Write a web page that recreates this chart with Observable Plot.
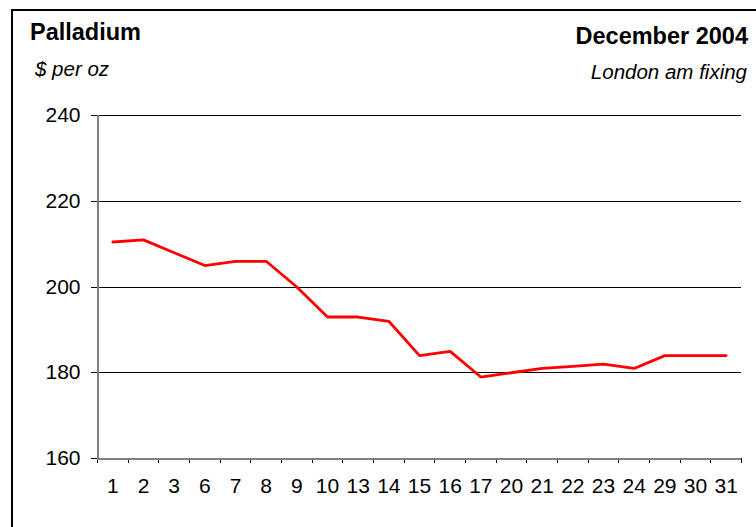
<!DOCTYPE html>
<html>
<head>
<meta charset="utf-8">
<script src="https://cdn.jsdelivr.net/npm/d3@7"></script>
<script src="https://cdn.jsdelivr.net/npm/@observablehq/plot@0.6"></script>
<style>
  html, body { margin: 0; padding: 0; background: #fff; }
  #wrap { position: relative; width: 756px; height: 527px; overflow: hidden; font-family: "Liberation Sans", Arial, sans-serif; }
  #frame { position: absolute; left: 11px; top: 9px; width: 800px; height: 600px; border-left: 2px solid #000; border-top: 2px solid #000; }
  #chart { position: absolute; left: 0; top: 0; }
  .t { position: absolute; white-space: nowrap; line-height: 1; color: #000; }
</style>
</head>
<body>
<div id="wrap">
  <div id="frame"></div>
  <div id="chart"></div>
</div>
<script>
const title = "Palladium";
const subtitle = "$ per oz";
const titleRight = "December 2004";
const subtitleRight = "London am fixing";

const days = ["1","2","3","6","7","8","9","10","13","14","15","16","17","20","21","22","23","24","29","30","31"];
const prices = [210.5, 211, 208, 205, 206, 206, 200, 193, 193, 192, 184, 185, 179, 180, 181, 181.5, 182, 181, 184, 184, 184];
const yTicks = [160, 180, 200, 220, 240];
const yGrid = [180, 200, 220, 240];

const data = days.map((d, i) => ({day: d, idx: i, price: prices[i]}));
const centers = days.map((d, i) => i + 0.5);
const bounds = d3.range(days.length + 1);

const font = "Liberation Sans, Arial, sans-serif";

const chart = Plot.plot({
  width: 756,
  height: 527,
  marginLeft: 97,
  marginRight: 15,
  marginTop: 115,
  marginBottom: 69,
  style: {fontFamily: font, fontSize: "21px", color: "#000", background: "transparent"},
  x: {type: "linear", domain: [0, days.length]},
  y: {domain: [160, 240]},
  marks: [
    Plot.ruleY(yGrid, {stroke: "#000", strokeWidth: 1, strokeOpacity: 1, shapeRendering: "crispEdges"}),
    Plot.axisY(yTicks, {tickSize: 6, tickPadding: 11, stroke: "#000", strokeWidth: 1, strokeOpacity: 1, fontSize: 21, label: null, shapeRendering: "crispEdges"}),
    Plot.axisX(bounds, {tickSize: 5, tickFormat: () => "", stroke: "#000", strokeWidth: 1, strokeOpacity: 1, label: null, shapeRendering: "crispEdges"}),
    Plot.axisX(centers, {tickSize: 0, tickPadding: 20, tickFormat: v => days[Math.round(v - 0.5)], fontSize: 21, label: null}),
    Plot.ruleX([0], {stroke: "#808080", strokeWidth: 2, shapeRendering: "crispEdges"}),
    Plot.ruleY([160], {stroke: "#808080", strokeWidth: 2, shapeRendering: "crispEdges"}),
    Plot.line(data, {x: d => d.idx + 0.5, y: "price", stroke: "#ff0000", strokeWidth: 2.8, strokeLinejoin: "miter"})
  ]
});
document.getElementById("chart").appendChild(chart);

const wrap = document.getElementById("wrap");
function addText(txt, opts) {
  const el = document.createElement("div");
  el.className = "t";
  el.textContent = txt;
  Object.assign(el.style, opts);
  wrap.appendChild(el);
}
addText(title, {left: "30px", top: "21px", fontSize: "23.5px", fontWeight: "bold"});
addText(subtitle, {left: "35px", top: "59px", fontSize: "20.5px", fontStyle: "italic"});
addText(titleRight, {right: "8px", top: "25px", fontSize: "23.5px", fontWeight: "bold"});
addText(subtitleRight, {right: "9px", top: "62px", fontSize: "20.5px", fontStyle: "italic"});
</script>
</body>
</html>
